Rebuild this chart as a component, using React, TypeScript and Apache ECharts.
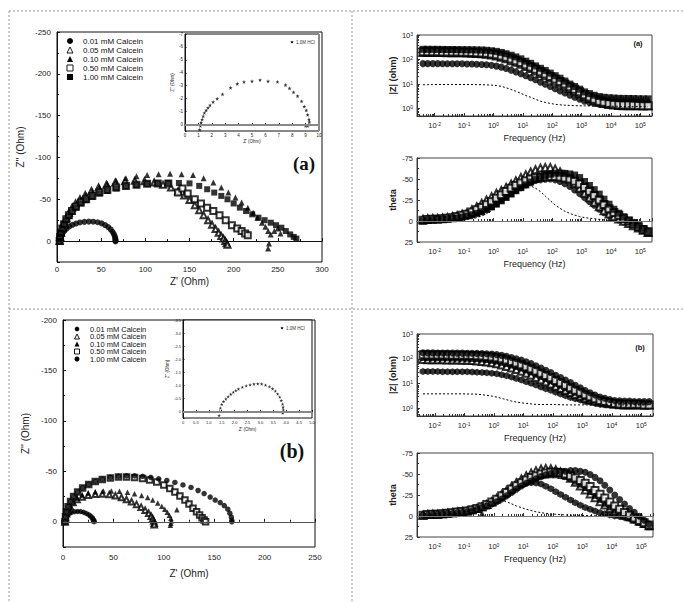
import React, { useEffect, useRef } from 'react';
import * as echarts from 'echarts';

const SANS = 'Liberation Sans, Arial, sans-serif';
const SERIF = 'Liberation Serif, Times New Roman, serif';

// ---- legend / series identity ----
const seriesLabels = ['0.01 mM Calcein', '0.05 mM Calcein', '0.10 mM Calcein', '0.50 mM Calcein', '1.00 mM Calcein'];
const hclLabel = '1.0M HCl';
const HEX = 'path://M0,-10 L8.7,-5 L8.7,5 L0,10 L-8.7,5 L-8.7,-5 Z';
const STAR = 'path://M0,-10 L2.4,-3.1 L9.5,-3.1 L3.8,1.2 L5.9,8.1 L0,4 L-5.9,8.1 L-3.8,1.2 L-9.5,-3.1 L-2.4,-3.1 Z';
const symbolsA = ['circle', 'emptyTriangle', 'triangle', 'emptyRect', 'rect'];
const symbolsB = [HEX, 'emptyTriangle', 'triangle', 'emptyRect', 'circle'];

// ---- Nyquist, panel (a): [Z', Z''] in ohm ----
const nyqA_001 = [[2.5,0],[3,-2.5],[3.8,-5],[5,-7.5],[6.5,-10],[8.5,-12.5],[11,-15],[14,-17.5],[17.5,-19.5],[21.5,-21],[26,-22.3],[31,-23],[36,-23.3],[41,-23.2],[46,-22.5],[50.5,-21.2],[54.5,-19.2],[58,-16.8],[60.8,-14],[62.8,-11.2],[64.3,-8.5],[65.3,-6],[65.9,-3.8],[66.2,-2],[66.3,-0.6],[66.2,0.4]];
const nyqA_005 = [[3,0],[3.5,-5],[4.5,-10],[6,-16],[8,-22],[10.5,-28],[13.5,-34],[17,-40],[21,-45],[26,-50],[32,-55],[39,-60],[47,-64],[56,-67.5],[66,-70],[77,-71.5],[88,-72],[99,-71.5],[110,-70],[120,-67.5],[129,-64],[137,-59.5],[144,-54.5],[150,-49],[156,-43],[161,-37],[166,-31],[171,-25],[175.5,-19.5],[179.5,-14.5],[183,-10],[186,-6],[188.5,-3],[190.5,0],[192,2.5],[193,4.5]];
const nyqA_010 = [[4,0],[4.5,-5],[5.5,-10],[7,-16],[9,-22],[11.5,-28],[14.5,-34],[18,-40],[22,-45],[27,-50],[33,-55],[40,-60],[48,-64.5],[57,-68.5],[67,-72],[78,-75],[90,-77.5],[102,-79],[115,-80],[128,-80.5],[141,-80],[154,-79],[166,-75],[177,-70],[186,-64],[194,-58],[202,-52],[209,-46],[216,-40],[222,-34],[227,-28],[232,-22],[236,-17],[239,-12],[242,-8],[246,-12],[250,-15],[253,-9],[240,3],[239,9]];
const nyqA_050 = [[3,0],[3.5,-5],[4.5,-10],[6,-15],[8,-20],[10.5,-26],[13.5,-31],[17,-36],[21.5,-41],[27,-46],[33,-50],[40,-54],[48,-58],[57,-61],[67,-64],[78,-66],[90,-67.5],[102,-68.5],[114,-69],[126,-69],[137,-58],[142,-63],[148,-57],[156,-50],[163,-45],[170,-40],[177,-36],[184,-31],[191,-25],[198,-19],[204,-15],[209,-12],[213,-9],[216,-7]];
const nyqA_100 = [[3,0],[3.5,-5],[4.5,-10],[6,-15],[8,-20],[10.5,-25],[13.5,-30],[17,-35],[21.5,-40],[27,-45],[33,-49],[40,-53],[48,-57],[57,-60],[67,-63],[78,-65.5],[90,-67],[102,-68.5],[114,-69],[126,-69.5],[138,-69.5],[150,-69],[161,-66],[170,-62],[178,-58],[186,-54],[193,-50],[200,-45],[207,-40],[214,-36],[221,-32],[228,-28],[235,-25],[242,-22],[248,-19],[254,-16],[259,-12],[264,-8],[268,-5],[271,-3]];
const nyqA_hcl = [[1.1,0.4],[1.15,0.1],[1.2,-0.15],[1.28,-0.4],[1.36,-0.65],[1.45,-0.9],[1.58,-1.1],[1.72,-1.3],[1.87,-1.5],[2.1,-1.75],[2.4,-2.0],[2.8,-2.35],[3.4,-2.85],[3.9,-3.15],[4.4,-3.3],[5.0,-3.35],[5.6,-3.45],[6.2,-3.35],[6.9,-3.3],[7.5,-3.05],[7.8,-2.8],[8.1,-2.5],[8.4,-2.2],[8.7,-1.8],[8.9,-1.4],[9.05,-1.1],[9.15,-0.75],[9.25,-0.4],[9.28,-0.2],[9.25,0],[9.15,0.1],[9.0,0.1]];

// ---- Nyquist, panel (b) ----
const nyqB_001 = [[1,0],[1.5,-2.5],[2.5,-4.5],[4,-6.5],[6,-8],[8.5,-9.2],[11.5,-10],[14.5,-10.3],[17.5,-10.1],[20.5,-9.4],[23,-8.3],[25.5,-7],[27.5,-5.4],[29,-3.8],[30,-2.2],[30.6,-0.9],[30.8,0]];
const nyqB_005 = [[2,0],[2.5,-4],[3.5,-8],[5,-12],[7,-15.5],[10,-19],[14,-22],[19,-24.5],[25,-26.3],[32,-27.3],[39,-27.5],[46,-27],[52,-25.8],[58,-24],[63,-22],[68,-19.8],[73,-17.2],[77.5,-14.5],[81.5,-11.5],[85,-8.5],[87.5,-5.5],[89,-3],[90,-0.8],[90.5,1.5],[90.5,3]];
const nyqB_010 = [[2,0],[2.5,-4],[3.5,-8],[5,-12],[7,-16],[10,-20],[14,-23.5],[19,-26.5],[25,-28.5],[32,-29.8],[40,-30.5],[48,-30.6],[56,-30.3],[64,-29.3],[71,-27.8],[78,-26],[84,-24],[89,-21.5],[94,-18.5],[98,-15.5],[101,-12.5],[103.5,-9.5],[105.5,-6.5],[107,-3.5],[107.5,-1],[107,1.5],[106.5,3.5],[113,-12]];
const nyqB_050 = [[2,0],[2.5,-5],[3.5,-10],[5,-15],[7.5,-20],[10.5,-25],[14.5,-29.5],[19.5,-33.5],[25.5,-37],[32,-40],[39,-42],[47,-43.5],[55,-44.3],[63,-44.5],[71,-44],[79,-43],[86,-41.5],[93,-39.5],[100,-36.5],[106,-33],[111,-29.5],[116,-25.5],[121,-21.5],[125,-17.5],[129,-13.5],[132.5,-10],[135.5,-6.8],[138,-4],[140,-1.8],[141.5,0]];
const nyqB_100 = [[2,0],[2.5,-5],[3.5,-10],[5,-15],[7.5,-20],[10.5,-25],[14.5,-29.5],[19.5,-33.5],[25.5,-37],[32,-40],[39,-42.2],[47,-44],[55,-45],[63,-45.5],[71,-45.5],[79,-45],[87,-44],[95,-42.5],[103,-41],[111,-39],[119,-36.5],[127,-34],[134,-31],[140,-28],[146,-24.5],[151,-21.5],[156,-19],[160,-16],[163.5,-12.5],[165.5,-8.5],[167,-4.5],[167.5,-1.5],[167.5,0]];
const nyqB_hcl = [[1.38,0.3],[1.4,0.15],[1.42,0],[1.45,-0.13],[1.5,-0.27],[1.57,-0.38],[1.66,-0.48],[1.75,-0.57],[1.85,-0.66],[1.95,-0.74],[2.05,-0.8],[2.15,-0.86],[2.3,-0.93],[2.45,-0.98],[2.6,-1.02],[2.75,-1.05],[2.9,-1.06],[3.05,-1.05],[3.2,-1.01],[3.35,-0.95],[3.47,-0.87],[3.58,-0.78],[3.67,-0.67],[3.75,-0.55],[3.81,-0.42],[3.86,-0.28],[3.88,-0.16],[3.89,-0.06],[3.88,0.02],[3.86,0.06]];

// ---- Bode sweep (Hz), six points per decade ----
const freq = [0.004, 0.0058, 0.0086, 0.0126, 0.0185, 0.027, 0.04, 0.058, 0.086, 0.126, 0.185, 0.27, 0.4, 0.58, 0.86, 1.26, 1.85, 2.7, 4, 5.8, 8.6, 12.6, 18.5, 27, 40, 58, 86, 126, 185, 270, 400, 580, 860, 1260, 1850, 2700, 4000, 5800, 8600, 12600, 18500, 27000, 40000, 58000, 86000, 126000, 185000];

// |Z| (ohm), panel (a)
const modA_001 = [68,68,68,68,67,67,67,67,67,66,65.5,64.5,63,61,58,54,49,43,37,31.5,26.5,22,18.3,15,12,9.8,8,6.4,5.2,4.3,3.5,2.9,2.4,2.0,1.8,1.65,1.5,1.43,1.37,1.3,1.3,1.3,1.3,1.3,1.3,1.3,1.3];
const modA_005 = [195,194.5,193.5,193,192,191,190,188.5,187,185,182,178,172,164,154,140,124,107,90,77,64,52,43,34,27,22,17.5,13.5,10.8,8.5,6.6,5.2,4.1,3.2,2.6,2.1,1.8,1.6,1.47,1.4,1.35,1.3,1.3,1.3,1.3,1.3,1.3];
const modA_010 = [245,244.5,243.5,243,241.5,240.5,240,238.5,237,236,234,231,228,221,212,200,181,161,140,120,100,82,66,52,41,33,26,20,15.5,12,9,7.1,5.6,4.4,3.7,3.2,2.9,2.7,2.55,2.5,2.45,2.4,2.4,2.4,2.35,2.3,2.3];
const modA_050 = [210,208.5,207,206,204.5,203,202,200.5,199,197,194.5,191,186,179,169,157,140,123,105,89,75,61,50,40,32,26,20.5,16,12.7,10,7.8,6.2,4.9,3.7,3.0,2.4,2.0,1.8,1.63,1.5,1.45,1.4,1.4,1.37,1.33,1.3,1.3];
const modA_100 = [262,262,261,260,258.5,257,256,254.5,253,252,250.5,248,245,238,228,215,195,173,150,128,107,86,70,55,44,36,28,22,17.3,13.3,10,8,6.2,4.8,4.1,3.5,3.1,2.9,2.77,2.7,2.63,2.6,2.6,2.57,2.53,2.5,2.5];
const modA_hcl = [9.4,9.45,9.55,9.6,9.6,9.6,9.6,9.6,9.6,9.6,9.55,9.5,9.4,9.3,9.05,8.7,8.1,7.1,6.0,5.1,4.2,3.4,2.9,2.4,2.0,1.8,1.63,1.5,1.43,1.38,1.35,1.32,1.3,1.3,1.28,1.27,1.25,1.25,1.25,1.25,1.25,1.2,1.2,1.2,1.2,1.2,1.2];

// phase (deg), panel (a)
const phA_001 = [-1,-1,-1.7,-2,-2.3,-2.7,-3,-3.7,-4.7,-6,-8,-10,-12,-14.7,-17.7,-21,-25,-29,-33,-36.3,-39.7,-43,-45.7,-48.3,-49,-49.7,-50,-49,-47,-44.3,-41,-37,-32.7,-28,-23.3,-18.7,-14,-10,-6.7,-4,-1.3,1,3,5.7,8.3,11,13.7];
const phA_005 = [-2,-2.7,-3,-3,-3.7,-4.3,-5,-6.3,-8,-10,-13.3,-17,-21,-25,-29,-33,-36.3,-40,-44,-48,-51.7,-55,-58.3,-61,-63,-63.7,-63.7,-62,-58.7,-54.7,-50,-44.7,-39,-33,-27.7,-22.3,-17,-12.3,-8.3,-5,-2.3,0.3,3,5.7,8.3,11,13.7];
const phA_010 = [-1,-1,-1.7,-2,-2.7,-3,-3,-4.3,-5.7,-7,-8.3,-10,-12,-14.7,-17.7,-21,-25,-29,-33,-37,-40.7,-44,-47.3,-50.3,-53,-54.3,-55,-55,-54.3,-53,-51,-47.7,-44,-40,-35.3,-30.3,-25,-19.7,-14.7,-10,-6,-2.3,1,4.3,7.7,11,14.3];
const phA_050 = [-1,-1.7,-2,-2,-2.7,-3.3,-4,-5.3,-6.7,-8,-10.7,-13.3,-16,-19.3,-23,-27,-31,-35,-39,-42.3,-45.3,-48,-50,-51.3,-52,-52.7,-53,-53,-52.3,-51.3,-50,-47.3,-44,-40,-35.3,-30.3,-25,-19.7,-14.7,-10,-6.7,-3.3,0,3.3,6.7,10,12.7];
const phA_100 = [0,-0.7,-1.3,-2,-2,-2.3,-3,-3.7,-4.7,-6,-7.3,-9,-11,-13.7,-16.7,-20,-24,-28,-32,-36,-39.7,-43,-46.3,-49.3,-52,-54,-55.7,-57,-57,-56.7,-56,-54.7,-51.7,-47,-42.3,-37.3,-32,-26,-20,-14,-9.3,-5,-1,2.3,5.7,9,12.3];
const phA_hcl = [-1,-1,-1,-1,-1,-1,-1,-1,-1,-2,-2.7,-4,-6,-8.7,-12.3,-17,-22.3,-27.7,-33,-37.7,-41,-43,-41.7,-39,-35,-29.7,-24.3,-19,-15,-11.7,-9,-7,-5.3,-4,-3.3,-2.7,-2,-1.3,-0.7,0,0.7,1.3,2,3.3,4.7,6,7.3];

// |Z| (ohm), panel (b)
const modB_001 = [31,31,31,31,30.3,30,30,30,30,30,29.3,28.7,28,27.3,26.3,25,23,21,18.5,16.2,14,12,10.3,8.8,7.4,6.3,5.4,4.5,3.8,3.3,2.8,2.5,2.2,1.9,1.77,1.63,1.5,1.43,1.4,1.4,1.33,1.3,1.3,1.3,1.3,1.3,1.3];
const modB_005 = [93,92.3,92,92,91.3,90.7,90,89.3,88.3,87,85,82.3,79,74.3,69,63,56.3,49.7,43,37,31.3,26,21.7,17.8,14.5,12,9.8,7.9,6.6,5.4,4.4,3.7,3.1,2.6,2.3,2.0,1.8,1.67,1.57,1.5,1.43,1.4,1.4,1.4,1.4,1.4,1.4];
const modB_010 = [112,111.3,110.7,110,110,109.7,109,108.3,107.3,106,104,101.3,98,93.3,87.7,81,73,65,57,49.7,42.7,36,30,24.7,20,16.3,13.2,10.5,8.6,6.9,5.5,4.5,3.7,3.0,2.5,2.2,1.9,1.7,1.57,1.5,1.43,1.4,1.4,1.4,1.4,1.4,1.4];
const modB_050 = [145,144.3,143.7,143,142.3,141.7,141,140.3,139.3,138,136,133.3,130,124.7,118,110,100,89.3,78,67.3,57.3,48,40,32.7,26,21.3,17.2,13.5,10.9,8.7,6.8,5.5,4.5,3.6,3.0,2.5,2.1,1.9,1.73,1.6,1.53,1.5,1.5,1.5,1.47,1.4,1.4];
const modB_100 = [175,174.3,173.7,173,172.3,171.7,171,170.3,169.7,169,167.7,166,164,160,154.7,148,138,126.7,114,101.3,88.7,76,64,53,43,35,28,22,17.7,14,11,8.7,6.8,5.3,4.3,3.5,2.9,2.6,2.3,2.1,2.03,2.0,2.0,1.93,1.9,1.9,1.9];
const modB_hcl = [3.9,3.9,3.9,3.9,3.9,3.9,3.9,3.9,3.9,3.85,3.82,3.77,3.6,3.4,3.17,2.9,2.57,2.27,2.0,1.83,1.7,1.6,1.53,1.47,1.45,1.45,1.45,1.45,1.42,1.4,1.4,1.4,1.4,1.4,1.4,1.4,1.4,1.4,1.4,1.4,1.4,1.4,1.4,1.4,1.4,1.4,1.4];

// phase (deg), panel (b)
const phB_001 = [-1,-1.7,-2.3,-3,-3,-3.3,-4,-4.7,-5.3,-6,-7.3,-9,-11,-13.7,-16.7,-20,-23.3,-27,-31,-34.3,-37,-39,-39.7,-39.3,-38,-35.3,-32.3,-29,-25.7,-22.3,-19,-15.7,-12.7,-10,-8,-6,-4,-2.7,-1.3,0,0.7,1.7,3,5,7.3,10,12.7];
const phB_005 = [-1,-1.7,-2,-2,-2.7,-3.3,-4,-4.7,-5.3,-6,-7.3,-9,-11,-13.7,-17,-21,-25.7,-30.3,-35,-39.7,-44,-48,-51.3,-54,-56,-56.7,-56.3,-55,-52.3,-49,-45,-40.3,-35.7,-31,-26.3,-21.7,-17,-13,-9.3,-6,-3.3,-1,1,3.7,6.3,9,11.7];
const phB_010 = [-1,-1.7,-2.7,-3,-3,-3.7,-4,-4.7,-5.3,-6,-7.3,-8.7,-3,-12,-15.7,-19,-22.3,-26,-30,-34,-37.7,-41,-43.7,-46,-48,-48.7,-49,-49,-48.3,-47,-45,-41.7,-38,-34,-29.3,-24.7,-20,-15.3,-11,-7,-3.7,-0.7,2,4.7,7.3,10,12.7];
const phB_050 = [-1,-1.7,-2,-2,-2.7,-3.3,-4,-4.7,-5.3,-6,-7.3,-9,-11,-13.7,-16.7,-20,-24,-28,-32,-36,-39.7,-43,-45.7,-48,-50,-51.3,-52,-52,-51.7,-50,-48,-45.3,-42.3,-39,-35,-30.3,-26,-21.3,-16.7,-12,-8,-4.3,-1,2.3,5.3,8,10.7];
const phB_100 = [-1,-1,-1.7,-2,-2.7,-3,-3,-3.7,-4.3,-5,-6.3,-8,-10,-12,-14.3,-17,-20.3,-24,-28,-32,-35.7,-39,-41.7,-44.3,-47,-49,-50.7,-52,-52.7,-53.3,-54,-54,-53.3,-52,-49.3,-46,-42,-36.7,-31,-25,-19.7,-14.3,-9,-4.3,0.3,5,9.7];
const phB_hcl = [-1,-1,-1,-1,-1.5,-2,-2.5,-3,-4,-5.5,-7.5,-10,-13,-16,-18.5,-19.5,-19,-17,-14.5,-12,-10,-8,-6.5,-5,-4,-3.2,-2.6,-2,-1.6,-1.3,-1,-1,-0.8,-0.6,-0.4,-0.2,0,0,0,0.2,0.4,0.7,1,1.7,2.7,4,5.3];

// ---- axis tick settings ----
const nyqATicks = { min: 0, max: 300, interval: 50 };
const nyqAYTicks = { min: -250, max: 25, interval: 50 };
const nyqBTicks = { min: 0, max: 250, interval: 50 };
const nyqBYTicks = { min: -200, max: 25, interval: 50 };
const insetATicks = { min: 0, max: 10, interval: 1 };
const insetAYTicks = { min: -7, max: 0.5, interval: 1 };
const insetBTicks = { min: 0, max: 5, interval: 0.5 };
const insetBYTicks = { min: -3.5, max: 0.25, interval: 0.5 };
const freqRange = { min: 0.0025, max: 250000 };
const modRange = { min: 0.5, max: 1000 };
const phaseTicks = { min: -75, max: 25, interval: 25 };

const BLACK = '#111';

const supLabel = (v: number) => {
  const e = Math.log10(v);
  const r = Math.round(e);
  if (Math.abs(e - r) > 1e-6) return '';
  return `{b|10}{s|${r}}`;
};
const supRich = {
  b: { fontSize: 7.5, fontFamily: SANS, color: '#222' },
  s: { fontSize: 5, fontFamily: SANS, color: '#222', verticalAlign: 'top' },
};

function nyqXAxis(grid: number, t: any, fs: number, margin: number, gap: number, nameSize: number, fmt?: (v: number) => string) {
  return {
    type: 'value', gridIndex: grid, ...t,
    axisLine: { lineStyle: { color: BLACK, width: 1 } },
    axisTick: { inside: true, length: 3, lineStyle: { color: BLACK } },
    minorTick: { show: true, splitNumber: 2, length: 2, lineStyle: { color: BLACK } },
    splitLine: { show: false },
    axisLabel: { fontSize: fs, fontFamily: SANS, color: '#222', margin, formatter: fmt },
    name: "Z' (Ohm)", nameLocation: 'middle', nameGap: gap,
    nameTextStyle: { fontSize: nameSize, fontFamily: SANS, color: '#222' },
  };
}
function nyqYAxis(grid: number, t: any, fs: number, margin: number, gap: number, nameSize: number, fmt: (v: number) => string) {
  return {
    type: 'value', gridIndex: grid, inverse: true, ...t,
    axisLine: { lineStyle: { color: BLACK, width: 1 } },
    axisTick: { inside: true, length: 3, lineStyle: { color: BLACK } },
    minorTick: { show: true, splitNumber: 2, length: 2, lineStyle: { color: BLACK } },
    splitLine: { show: false },
    axisLabel: { fontSize: fs, fontFamily: SANS, color: '#222', margin, formatter: fmt },
    name: "Z'' (Ohm)", nameLocation: 'middle', nameGap: gap, nameRotate: 90,
    nameTextStyle: { fontSize: nameSize, fontFamily: SANS, color: '#222' },
  };
}
function freqAxis(grid: number) {
  return {
    type: 'log', logBase: 10, gridIndex: grid, ...freqRange, splitNumber: 5,
    axisLine: { lineStyle: { color: '#333' } },
    axisTick: { inside: true, length: 3, lineStyle: { color: '#333' } },
    minorTick: { show: true, splitNumber: 9, length: 2, lineStyle: { color: '#333' } },
    splitLine: { show: false },
    axisLabel: { formatter: supLabel, rich: supRich, margin: 5, showMinLabel: false, showMaxLabel: false },
    name: 'Frequency (Hz)', nameLocation: 'middle', nameGap: 17,
    nameTextStyle: { fontSize: 9, fontFamily: SANS, color: '#222' },
  };
}
function modAxis(grid: number) {
  return {
    type: 'log', logBase: 10, gridIndex: grid, ...modRange, splitNumber: 5,
    axisLine: { lineStyle: { color: '#333' } },
    axisTick: { inside: true, length: 3, lineStyle: { color: '#333' } },
    minorTick: { show: true, splitNumber: 9, length: 2, lineStyle: { color: '#333' } },
    splitLine: { show: false },
    axisLabel: { formatter: supLabel, rich: supRich, margin: 4 },
    name: '|Z| (ohm)', nameLocation: 'middle', nameGap: 20, nameRotate: 90,
    nameTextStyle: { fontSize: 9, fontWeight: 'bold', fontFamily: SANS, color: '#222' },
  };
}
function phaseAxis(grid: number) {
  return {
    type: 'value', gridIndex: grid, inverse: true, ...phaseTicks,
    axisLine: { lineStyle: { color: '#333' } },
    axisTick: { inside: true, length: 3, lineStyle: { color: '#333' } },
    minorTick: { show: true, splitNumber: 2, length: 2, lineStyle: { color: '#333' } },
    splitLine: { show: false },
    axisLabel: { fontSize: 7.5, fontFamily: SANS, color: '#222', margin: 4 },
    name: 'theta', nameLocation: 'middle', nameGap: 20, nameRotate: 90,
    nameTextStyle: { fontSize: 9, fontWeight: 'bold', fontFamily: SANS, color: '#222' },
  };
}

function scatter(name: string, data: number[][], symbol: string, size: number, xi: number) {
  const empty = symbol.startsWith('empty');
  return {
    type: 'scatter', name, data, symbol, symbolSize: size,
    xAxisIndex: xi, yAxisIndex: xi, silent: true,
    itemStyle: empty
      ? { color: '#000', borderColor: '#000', borderWidth: 0.9 }
      : { color: '#000', borderWidth: 0 },
  };
}
const zip = (ys: number[]) => freq.map((f, i) => [f, ys[i]]);

function zeroLine(color: string, width: number) {
  return {
    silent: true, symbol: 'none', label: { show: false },
    lineStyle: { color, width, type: 'solid' },
    data: [{ yAxis: 0 }],
  };
}

// legend drawn as marker + caption rows
function legendRows(x: number, y0: number, gap: number, size: number, kinds: string[], fs: number, textX: number) {
  const out: any[] = [];
  kinds.forEach((k, i) => {
    const cy = y0 + i * gap;
    const h = size / 2;
    const filled = { fill: '#000' };
    const open = { fill: '#fff', stroke: '#000', lineWidth: 0.9 };
    if (k === 'circle') out.push({ type: 'circle', shape: { cx: x, cy, r: h }, style: filled });
    else if (k === 'triangle' || k === 'emptyTriangle')
      out.push({ type: 'polygon', shape: { points: [[x, cy - h], [x + h, cy + h], [x - h, cy + h]] }, style: k === 'triangle' ? filled : open });
    else if (k === 'rect' || k === 'emptyRect')
      out.push({ type: 'rect', shape: { x: x - h, y: cy - h, width: size, height: size }, style: k === 'rect' ? filled : open });
    else
      out.push({ type: 'polygon', shape: { points: [[x, cy - h], [x + 0.87 * h, cy - h / 2], [x + 0.87 * h, cy + h / 2], [x, cy + h], [x - 0.87 * h, cy + h / 2], [x - 0.87 * h, cy - h / 2]] }, style: filled });
    out.push({
      type: 'text', x: textX, y: cy,
      style: { text: seriesLabels[i], fontSize: fs, fontFamily: SANS, fill: '#111', verticalAlign: 'middle', align: 'left' },
    });
  });
  return out;
}

function dashed(x1: number, y1: number, x2: number, y2: number) {
  return { type: 'line', shape: { x1, y1, x2, y2 }, style: { stroke: '#999', lineWidth: 1, lineDash: [2, 2] } };
}

export default function App() {
  const ref = useRef<HTMLDivElement>(null);
  useEffect(() => {
    if (!ref.current) return;
    const chart = echarts.init(ref.current, null, { renderer: 'svg' });

    const hideAbove0 = (v: number) => (v > 0 ? '' : String(v));
    const intOnly = (v: number) => (Number.isInteger(v) && v <= 0 ? String(v) : '');
    const halfFmt = (v: number) => (v > 0.001 || v < -0.001 ? (Math.abs(v * 2 - Math.round(v * 2)) < 1e-6 && v <= 5 ? v.toFixed(1) : '') : '0');
    const halfY = (v: number) => (v > 0.001 ? '' : v < -0.001 ? v.toFixed(1) : '0');

    const nyqSyms = (arrs: number[][][], syms: string[], size: number, xi: number) =>
      arrs.map((d, i) => scatter(seriesLabels[i], d, syms[i], size, xi));

    const bode = (mods: number[][], hcl: number[], syms: string[], xi: number, color: string) => [
      {
        type: 'line', name: hclLabel, data: zip(hcl), xAxisIndex: xi, yAxisIndex: xi,
        showSymbol: false, silent: true, lineStyle: { color: '#000', width: 1, type: [2, 2] },
        markLine: color ? zeroLine(color, 1) : undefined,
      },
      ...mods.map((m, i) => scatter(seriesLabels[i], zip(m), syms[i], 7, xi)),
    ];

    const option: any = {
      animation: false,
      backgroundColor: '#fff',
      grid: [
        { left: 57, top: 32, width: 265, height: 230, show: true, borderColor: BLACK, borderWidth: 1 },
        { left: 185, top: 34, width: 134, height: 97, show: true, backgroundColor: '#fff', borderColor: BLACK, borderWidth: 1 },
        { left: 417, top: 35, width: 235, height: 81, show: true, borderColor: '#444', borderWidth: 1 },
        { left: 417, top: 158, width: 235, height: 84, show: true, borderColor: '#444', borderWidth: 1 },
        { left: 63, top: 320, width: 252, height: 227, show: true, borderColor: BLACK, borderWidth: 1 },
        { left: 183, top: 320, width: 129, height: 98, show: true, backgroundColor: '#fff', borderColor: BLACK, borderWidth: 1 },
        { left: 417, top: 334, width: 236, height: 82, show: true, borderColor: '#444', borderWidth: 1 },
        { left: 417, top: 453, width: 236, height: 84, show: true, borderColor: '#444', borderWidth: 1 },
      ],
      xAxis: [
        nyqXAxis(0, nyqATicks, 8, 3, 14, 10),
        { ...nyqXAxis(1, insetATicks, 4.5, 2, 8, 4.5), minorTick: { show: false }, axisTick: { inside: true, length: 1.5, lineStyle: { color: BLACK } } },
        freqAxis(2),
        freqAxis(3),
        nyqXAxis(4, nyqBTicks, 8, 6, 21, 10),
        { ...nyqXAxis(5, insetBTicks, 4, 2, 9, 4.5, halfFmt), minorTick: { show: false }, axisTick: { inside: true, length: 1.5, lineStyle: { color: BLACK } } },
        freqAxis(6),
        freqAxis(7),
      ],
      yAxis: [
        nyqYAxis(0, nyqAYTicks, 8, 6, 32, 10, hideAbove0),
        { ...nyqYAxis(1, insetAYTicks, 4.5, 2, 7, 4.5, intOnly), minorTick: { show: false }, axisTick: { inside: true, length: 1.5, lineStyle: { color: BLACK } } },
        modAxis(2),
        phaseAxis(3),
        nyqYAxis(4, nyqBYTicks, 8, 6, 33, 10, hideAbove0),
        { ...nyqYAxis(5, insetBYTicks, 4, 2, 9, 4.5, halfY), minorTick: { show: false }, axisTick: { inside: true, length: 1.5, lineStyle: { color: BLACK } } },
        modAxis(6),
        phaseAxis(7),
      ],
      series: [
        // Nyquist (a)
        { ...scatter(seriesLabels[0], nyqA_001, symbolsA[0], 6, 0), markLine: zeroLine(BLACK, 1) },
        ...nyqSyms([nyqA_005, nyqA_010, nyqA_050, nyqA_100], symbolsA.slice(1), 6, 0).map((s, i) => ({ ...s, name: seriesLabels[i + 1] })),
        // inset (a)
        {
          ...scatter(hclLabel, nyqA_hcl, STAR, 4, 1),
          markLine: {
            silent: true, symbol: 'none', label: { show: false },
            lineStyle: { color: '#888', width: 2, type: 'solid' },
            data: [{ yAxis: 0 }, { xAxis: 10 }],
          },
        },
        // Bode (a)
        ...bode([modA_001, modA_005, modA_010, modA_050, modA_100], modA_hcl, symbolsA, 2, ''),
        ...bode([phA_001, phA_005, phA_010, phA_050, phA_100], phA_hcl, symbolsA, 3, '#777'),
        // Nyquist (b)
        { ...scatter(seriesLabels[0], nyqB_001, symbolsB[0], 5.5, 4), markLine: zeroLine('#555', 1) },
        ...nyqSyms([nyqB_005, nyqB_010, nyqB_050, nyqB_100], symbolsB.slice(1), 5.5, 4).map((s, i) => ({ ...s, name: seriesLabels[i + 1] })),
        // inset (b)
        {
          ...scatter(hclLabel, nyqB_hcl, STAR, 3.5, 5),
          markLine: {
            silent: true, symbol: 'none', label: { show: false },
            lineStyle: { color: '#888', width: 2, type: 'solid' },
            data: [{ yAxis: 0 }],
          },
        },
        // Bode (b)
        ...bode([modB_001, modB_005, modB_010, modB_050, modB_100], modB_hcl, symbolsB, 6, ''),
        ...bode([phB_001, phB_005, phB_010, phB_050, phB_100], phB_hcl, symbolsB, 7, '#777'),
      ],
      graphic: [
        dashed(9, 11, 683, 11),
        dashed(9, 11, 9, 602),
        dashed(352, 11, 352, 602),
        dashed(9, 309, 683, 309),
        ...legendRows(70, 41, 9, 6, symbolsA, 8, 83),
        ...legendRows(77, 329, 7.5, 5, ['hex', 'emptyTriangle', 'triangle', 'emptyRect', 'circle'], 7.5, 90),
        { type: 'text', x: 304, y: 163, style: { text: '(a)', fontSize: 19, fontWeight: 'bold', fontFamily: SERIF, fill: '#111', align: 'center', verticalAlign: 'middle' } },
        { type: 'text', x: 292, y: 451, style: { text: '(b)', fontSize: 20, fontWeight: 'bold', fontFamily: SERIF, fill: '#111', align: 'center', verticalAlign: 'middle' } },
        { type: 'text', x: 638, y: 43, style: { text: '(a)', fontSize: 7.5, fontWeight: 'bold', fontFamily: SANS, fill: '#111', align: 'center', verticalAlign: 'middle' } },
        { type: 'text', x: 640, y: 347, style: { text: '(b)', fontSize: 7.5, fontWeight: 'bold', fontFamily: SANS, fill: '#111', align: 'center', verticalAlign: 'middle' } },
        { type: 'text', x: 296, y: 42, style: { text: hclLabel, fontSize: 4.5, fontFamily: SANS, fill: '#333', align: 'left', verticalAlign: 'middle' } },
        { type: 'text', x: 286, y: 328, style: { text: hclLabel, fontSize: 4.5, fontFamily: SANS, fill: '#333', align: 'left', verticalAlign: 'middle' } },
        { type: 'polygon', shape: { points: [[292, 40.5], [292.6, 41.6], [293.6, 41.6], [292.8, 42.3], [293.1, 43.4], [292, 42.8], [290.9, 43.4], [291.2, 42.3], [290.4, 41.6], [291.4, 41.6]] }, style: { fill: '#000' } },
        { type: 'polygon', shape: { points: [[282, 326.5], [282.6, 327.6], [283.6, 327.6], [282.8, 328.3], [283.1, 329.4], [282, 328.8], [280.9, 329.4], [281.2, 328.3], [280.4, 327.6], [281.4, 327.6]] }, style: { fill: '#000' } },
      ],
    };
    chart.setOption(option);
    return () => chart.dispose();
  }, []);
  return <div ref={ref} style={{ position: 'absolute', left: 0, top: 0, width: 683, height: 602 }} />;
}
